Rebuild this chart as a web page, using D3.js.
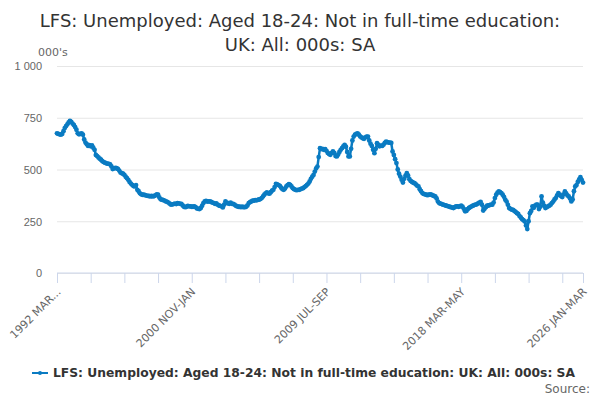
<!DOCTYPE html>
<html>
<head>
<meta charset="utf-8">
<script src="https://cdn.jsdelivr.net/npm/d3@7"></script>
<style>
  body { margin: 0; background: #fff; }
  svg { display: block; font-family: "DejaVu Sans", sans-serif; }
  .grid line { stroke: #e6e6e6; }
  .axis--y text, .axis--x text { fill: #666; font-size: 11px; }
</style>
</head>
<body>
<svg id="chart" width="600" height="400"></svg>
<script>
// one value per rolling quarter, 1992 MAR-MAY .. 2026 JAN-MAR (000s)
var values = [
    675, 672, 670, 668, 672, 685, 700, 710, 718, 728, 735, 730,
    722, 715, 705, 692, 675, 670, 672, 675, 668, 645, 630, 622,
    614, 618, 612, 616, 605, 595, 570, 565, 558, 552, 547, 540,
    536, 533, 530, 528, 527, 525, 515, 502, 505, 508, 506, 503,
    495, 485, 482, 480, 474, 465, 458, 450, 440, 432, 426, 420,
    418, 425, 402, 395, 385, 380, 378, 378, 376, 374, 373, 372,
    370, 372, 370, 372, 375, 380, 378, 365, 356, 354, 352, 350,
    346, 344, 340, 335, 330, 332, 333, 335, 333, 338, 336, 334,
    334, 326, 320, 318, 320, 324, 322, 322, 320, 320, 322, 318,
    312, 310, 309, 314, 325, 338, 346, 348, 345, 346, 346, 343,
    340, 338, 334, 336, 330, 326, 324, 322, 317, 330, 346, 340,
    336, 334, 340, 334, 334, 330, 325, 322, 320, 320, 318, 320,
    318, 318, 320, 326, 338, 342, 346, 349, 350, 352, 351, 353,
    355, 357, 362, 370, 378, 385, 389, 385, 383, 390, 398, 402,
    415, 431, 428, 425, 421, 412, 405, 402, 408, 418, 425, 429,
    426, 418, 410, 405, 402, 400, 402, 402, 405, 408, 410, 415,
    420, 426, 432, 442, 455, 465, 474, 490, 505, 514, 560, 603,
    598, 600, 595, 598, 590, 580, 575, 571, 580, 587, 580, 565,
    563, 572, 585, 595, 603, 612, 619, 610, 585, 563, 563, 600,
    640, 659, 668, 672, 675, 668, 660, 655, 651, 648, 655, 659,
    659, 640, 625, 614, 595, 579, 600, 627, 620, 612, 615, 614,
    620, 628, 635, 632, 630, 630, 628, 587, 570, 550, 531, 500,
    480, 466, 450, 437, 455, 470, 482, 470, 453, 445, 440, 436,
    434, 428, 422, 418, 405, 395, 386, 382, 380, 378, 376, 378,
    380, 378, 375, 372, 370, 360, 345, 338, 335, 333, 330, 328,
    326, 324, 322, 320, 318, 316, 314, 318, 322, 322, 320, 322,
    325, 320, 310, 298, 300, 308, 314, 318, 322, 325, 328, 330,
    332, 336, 340, 343, 330, 302, 310, 318, 325, 326, 328, 330,
    330, 340, 362, 378, 388, 394, 390, 386, 378, 368, 354, 345,
    330, 314, 310, 306, 305, 300, 295, 289, 285, 275, 268, 260,
    255, 249, 230, 212, 250, 289, 300, 322, 315, 325, 330, 330,
    309, 320, 370, 340, 325, 314, 318, 322, 325, 330, 338, 345,
    355, 362, 375, 386, 378, 372, 367, 380, 394, 385, 375, 370,
    360, 346, 355, 395, 418, 425, 440, 452, 463, 450, 437
];

var months = ["JAN","FEB","MAR","APR","MAY","JUN","JUL","AUG","SEP","OCT","NOV","DEC"];
var categories = values.map(function(v, i) {
    var m = i + 2;   // first period starts in March 1992
    return (1992 + Math.floor(m / 12)) + " " + months[m % 12] + "-" + months[(m + 2) % 12];
});

var yTickValues = [0, 250, 500, 750, 1000];
var tickStep = 26;
var labelStep = 104;

var titleLines = ["LFS: Unemployed: Aged 18-24: Not in full-time education:", "UK: All: 000s: SA"];
var seriesName = "LFS: Unemployed: Aged 18-24: Not in full-time education: UK: All: 000s: SA";
var unitLabel = "000's";
var sourceLabel = "Source:";

var color = "#0a7bc2";

var svg = d3.select("#chart");
var margin = {top: 66, right: 17, bottom: 127, left: 57}
    , width = 600 - margin.left - margin.right
    , height = 400 - margin.top - margin.bottom
    , g = svg.append("g").attr("transform", "translate(" + margin.left + "," + margin.top + ")")
    ;

var x = d3.scaleLinear()
    .domain([0, values.length - 1])
    .range([0, width]);

var y = d3.scaleLinear()
    .domain([0, 1000])
    .range([height, 0]);

var yFormat = (function() {
    var base = d3.format(",d");
    return function(v) { return base(v).replace(/,/g, " "); };
})();

// title
svg.append("g")
    .selectAll("text")
    .data(titleLines)
    .enter()
    .append("text")
    .attr("x", 300)
    .attr("y", function(d, i) { return 27 + i * 24; })
    .attr("text-anchor", "middle")
    .style("font-size", "18px")
    .style("fill", "#333")
    .text(function(d) { return d; });

svg.append("text")
    .attr("x", 38)
    .attr("y", 56)
    .attr("text-anchor", "start")
    .style("font-size", "11px")
    .style("fill", "#666")
    .text(unitLabel);

// y grid + labels
var yAxis = d3.axisLeft(y)
    .tickValues(yTickValues)
    .tickSizeOuter(0)
    .tickSizeInner(-width)
    .tickPadding(15)
    .tickFormat(yFormat);

g.append("g")
    .attr("class", "axis axis--y grid")
    .call(yAxis)
    .call(function(s) {
        s.select(".domain").remove();
        s.selectAll("text").attr("dy", "0.35em");
    });

// x axis: ticks every 26 periods, labels every 104, plus last
var tickIdx = d3.range(0, values.length, tickStep);
tickIdx.push(values.length - 1);
var labelIdx = d3.range(0, values.length - 1, labelStep);
labelIdx.push(values.length - 1);

var xg = g.append("g")
    .attr("class", "axis axis--x")
    .attr("transform", "translate(0," + height + ")");

xg.append("line")
    .attr("x1", 0)
    .attr("x2", width)
    .attr("stroke", "#ccd6eb");

xg.selectAll("line.tick")
    .data(tickIdx)
    .enter()
    .append("line")
    .attr("class", "tick")
    .attr("x1", function(d) { return x(d) + 0.5; })
    .attr("x2", function(d) { return x(d) + 0.5; })
    .attr("y1", 0)
    .attr("y2", 10)
    .attr("stroke", "#ccd6eb");

xg.selectAll("text")
    .data(labelIdx)
    .enter()
    .append("text")
    .attr("transform", function(d) { return "translate(" + (x(d) - 1) + ",14) rotate(-45)"; })
    .attr("text-anchor", "end")
    .attr("dy", "0.7em")
    .text(function(d, i) {
        var s = categories[d];
        return i === 0 ? s.slice(0, 8) + "..." : s;
    });

// series
var line = d3.line()
    .x(function(d, i) { return x(i); })
    .y(function(d) { return y(d); });

g.append("path")
    .datum(values)
    .attr("fill", "none")
    .attr("stroke", color)
    .attr("stroke-width", 2.5)
    .attr("stroke-linejoin", "round")
    .attr("d", line);

g.append("g")
    .selectAll("circle")
    .data(values)
    .enter()
    .append("circle")
    .attr("cx", function(d, i) { return x(i); })
    .attr("cy", function(d) { return y(d); })
    .attr("r", 2.4)
    .attr("fill", color);

// legend
var lg = svg.append("g").attr("transform", "translate(32,373)");
lg.append("line")
    .attr("x1", 0).attr("x2", 16)
    .attr("stroke", color)
    .attr("stroke-width", 2);
lg.append("circle")
    .attr("cx", 8).attr("r", 2)
    .attr("fill", color);
lg.append("text")
    .attr("x", 21)
    .attr("dy", "0.35em")
    .style("font-size", "12.3px")
    .style("font-weight", "bold")
    .style("fill", "#333")
    .text(seriesName);

svg.append("text")
    .attr("x", 590)
    .attr("y", 393)
    .attr("text-anchor", "end")
    .style("font-size", "12px")
    .style("fill", "#666")
    .text(sourceLabel);
</script>
</body>
</html>
